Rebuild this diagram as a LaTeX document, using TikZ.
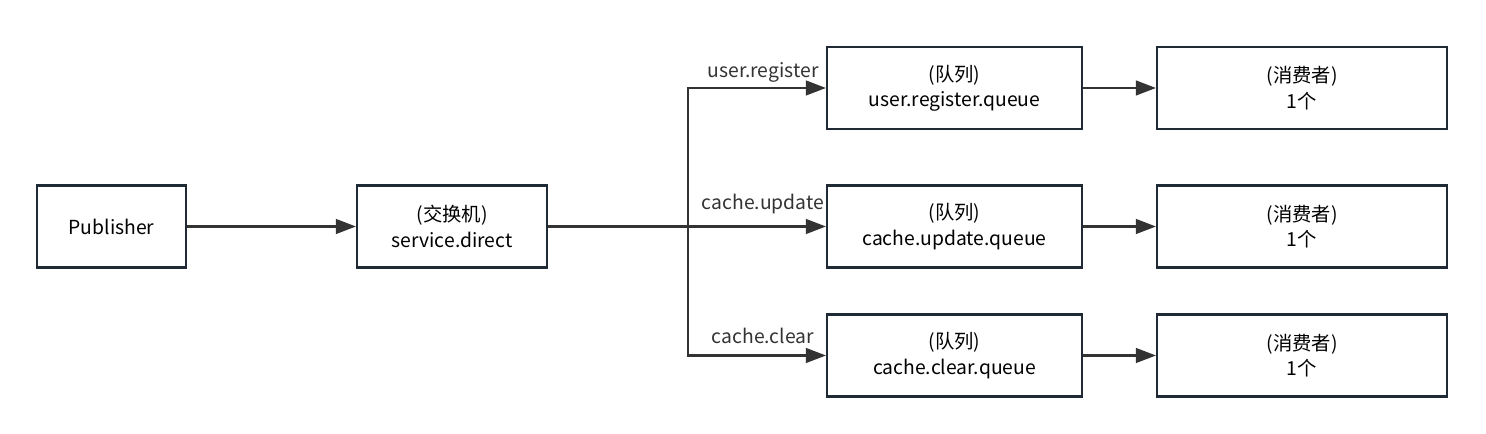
\documentclass[tikz,border=0pt]{standalone}
\usepackage{fontspec}
\setmainfont{Noto Sans CJK SC}
\usetikzlibrary{arrows.meta}
\definecolor{boxline}{HTML}{1F2A35}
\definecolor{arrowline}{HTML}{333333}

\begin{document}
\begin{tikzpicture}[x=0.75pt, y=-0.75pt,
    box/.style={draw=boxline, line width=1.6pt, fill=white, minimum height=61.5pt,
        align=center, font=\fontsize{14.5}{19}\selectfont, inner sep=0pt},
    link/.style={draw=arrowline, line width=1.6pt, -{Triangle[length=15pt, width=11pt]}},
    keylabel/.style={font=\fontsize{14.5}{17}\selectfont, text=arrowline}]
\useasboundingbox (0,0) rectangle (1486,434);

% boxes
\node[box, minimum width=111.75pt] (pub) at (111.5,226.5) {Publisher};
\node[box, minimum width=142.5pt] (ex) at (452,226.5) {(交换机)\\service.direct};
\node[box, minimum width=191.25pt] (q1) at (954.5,88) {(队列)\\user.register.queue};
\node[box, minimum width=191.25pt] (q2) at (954.5,226.5) {(队列)\\cache.update.queue};
\node[box, minimum width=191.25pt] (q3) at (954.5,355.5) {(队列)\\cache.clear.queue};
\node[box, minimum width=217.5pt] (c1) at (1302,88) {(消费者)\\1个};
\node[box, minimum width=217.5pt] (c2) at (1302,226.5) {(消费者)\\1个};
\node[box, minimum width=217.5pt] (c3) at (1302,355.5) {(消费者)\\1个};

% routing point
\coordinate (fork) at (688,226.5);

\draw[link] (pub) -- (ex);
\draw[link] (ex) -- (q2);
\draw[link] (fork) |- (q1);
\draw[link] (fork) |- (q3);
\draw[link] (q1) -- (c1);
\draw[link] (q2) -- (c2);
\draw[link] (q3) -- (c3);

% routing keys
\node[keylabel] (k1) at (763,72) {user.register};
\node[keylabel] (k2) at (763,204) {cache.update};
\node[keylabel] (k3) at (763,336) {cache.clear};

\end{tikzpicture}
\end{document}
